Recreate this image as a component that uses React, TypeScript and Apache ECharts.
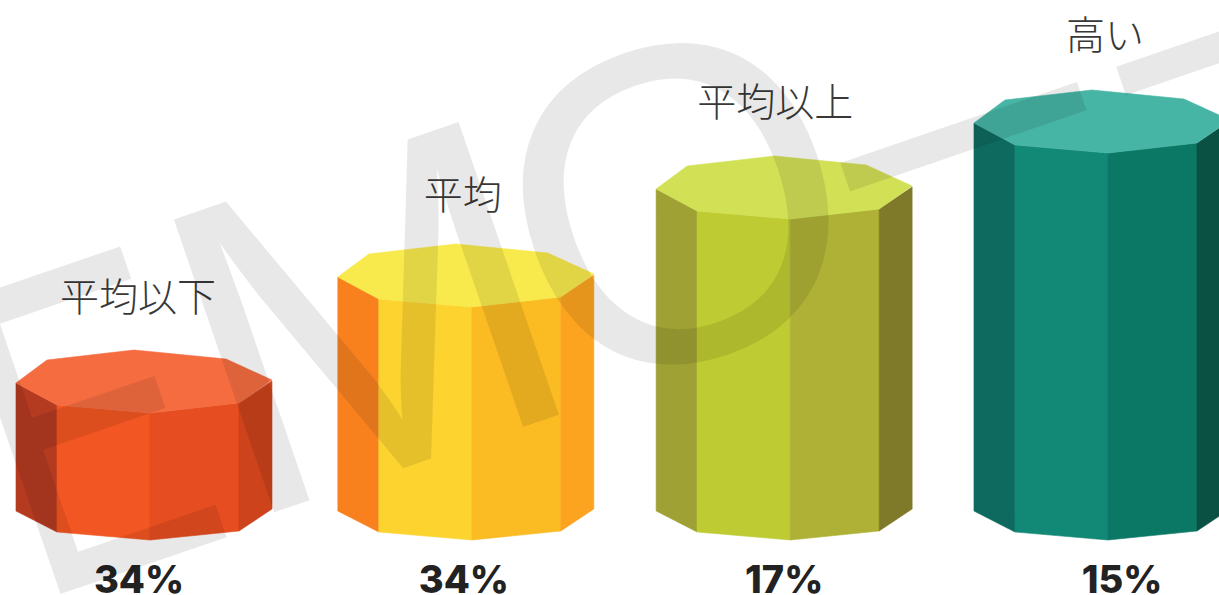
import React, { useEffect, useRef } from "react";
import * as echarts from "echarts";

const categories = ["平均以下", "平均", "平均以上", "高い"];
const percentLabels = ["34%", "34%", "17%", "15%"];
// Height of each column's front edge, on the hidden value axis
const columnHeights = [127, 233, 321, 387];
const palettes = [
  { top: "#F46C40", left: "#B43A20", midL: "#F25622", midR: "#E64D20", right: "#CC431C" },
  { top: "#F8E94C", left: "#F8811E", midL: "#FDD330", midR: "#FBBB23", right: "#FCA41F" },
  { top: "#D2E056", left: "#9FA135", midL: "#BFCB32", midR: "#AEB135", right: "#7F7A2A" },
  { top: "#46B5A5", left: "#0E6A5E", midL: "#128876", midR: "#0B7866", right: "#0A5143" },
];
const columnNudgeX = [0, 2.5, 1.5, 0];
const labelNudgeX = [-12, -9, -15, -3];
const labelNudgeY = [-4, 0, -5, -6];
const percentNudgeX = [-11, -8, -6, 14];

const WATERMARK = [
  { t: "E", x: 87, y: 420, sx: 0.72 },
  { t: "M", x: 366, y: 316, sx: 1 },
  { t: "O", x: 676, y: 203, sx: 0.97 },
  { t: "–", x: 950, y: 97, sx: 1 },
  { t: "–", x: 1220, y: 3, sx: 0.95 },
];

function renderItem(_params: any, api: any) {
  const i = api.value(0);
  const [baseX, topY] = api.coord([i, api.value(1)]);
  const [, botY] = api.coord([i, 0]);
  const cx = baseX + columnNudgeX[i];
  const p = palettes[i];
  const T = (dx: number, dy: number) => [cx + dx, topY + dy];
  const B = (dx: number, dy: number) => [cx + dx, botY + dy];
  const poly = (points: number[][], fill: string) => ({
    type: "polygon",
    shape: { points },
    style: { fill, stroke: fill, lineWidth: 0.6 },
  });
  return {
    type: "group",
    children: [
      poly([T(-134, -30), T(-93, -8), B(-93, -8), B(-134, -29)], p.left),
      poly([T(-93, -8), T(0, 0), B(0, 0), B(-93, -8)], p.midL),
      poly([T(0, 0), T(89, -10), B(89, -9), B(0, 0)], p.midR),
      poly([T(89, -10), T(122, -32), B(122, -31), B(89, -9)], p.right),
      poly(
        [T(-134, -30), T(-103, -53), T(-16, -63), T(76, -54), T(122, -33), T(89, -10), T(0, 0), T(-93, -8)],
        p.top,
      ),
      {
        type: "text",
        x: cx + labelNudgeX[i],
        y: topY - 115 + labelNudgeY[i],
        style: {
          text: categories[i],
          fontSize: 39,
          fontFamily: "'Noto Sans CJK JP'",
          fontWeight: 300,
          fill: "#383838",
          textAlign: "center",
          textVerticalAlign: "middle",
        },
      },
      {
        type: "text",
        x: cx + percentNudgeX[i],
        y: botY + 39,
        style: {
          text: percentLabels[i],
          fontSize: 38,
          fontFamily: "Inter, 'Open Sans', sans-serif",
          fontWeight: 800,
          fill: "#222222",
          textAlign: "center",
          textVerticalAlign: "middle",
        },
      },
    ],
  };
}

export default function App() {
  const ref = useRef<HTMLDivElement>(null);
  useEffect(() => {
    document.body.style.margin = "0";
    document.body.style.overflow = "hidden";
    const chart = echarts.init(ref.current!, undefined, { renderer: "svg" });
    chart.setOption({
      animation: false,
      backgroundColor: "#ffffff",
      grid: { left: 0, right: 0, top: 0, bottom: 0 },
      xAxis: { type: "value", min: -0.4697, max: 3.3477, show: false },
      yAxis: { type: "value", min: -55, max: 540, show: false },
      series: [
        {
          type: "custom",
          clip: false,
          renderItem,
          data: columnHeights.map((h, i) => [i, h]),
          encode: { x: 0, y: 1 },
        },
      ],
      graphic: WATERMARK.map((w) => ({
        type: "text",
        x: w.x,
        y: w.y,
        rotation: 0.33,
        scaleX: w.sx,
        z: 100,
        silent: true,
        style: {
          text: w.t,
          fontSize: 450,
          fontFamily: "'Liberation Sans'",
          fill: "rgba(0,0,0,0.09)",
          textAlign: "center",
          textVerticalAlign: "middle",
        },
      })),
    });
    return () => chart.dispose();
  }, []);
  return <div ref={ref} style={{ width: 1219, height: 595, overflow: "hidden" }} />;
}
